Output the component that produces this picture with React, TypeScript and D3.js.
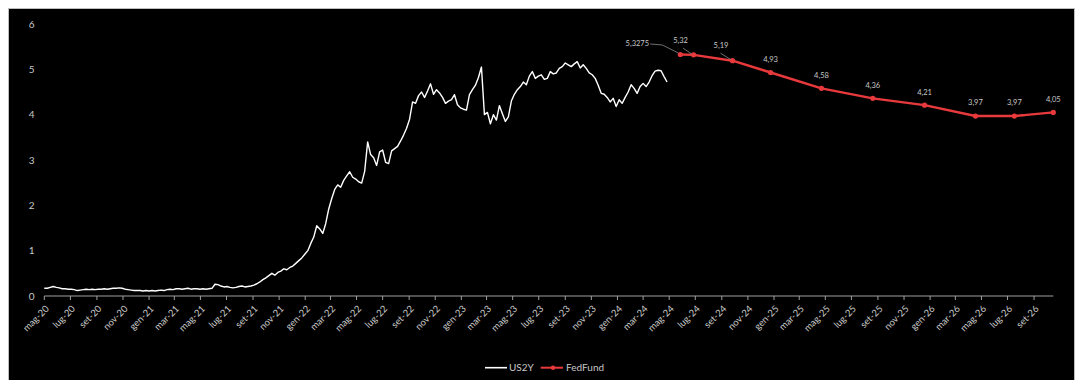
import React from 'react';
import * as d3 from 'd3';

// ---------- DATA ----------
const us2yStart = '2020-05-01';
const us2yStepDays = 7;
const us2yValues = [
  0.17, 0.17, 0.19, 0.21, 0.19, 0.18, 0.16, 0.16, 0.15, 0.15,
  0.14, 0.12, 0.13, 0.14, 0.15, 0.14, 0.15, 0.14, 0.15, 0.15,
  0.16, 0.15, 0.16, 0.17, 0.17, 0.18, 0.17, 0.15, 0.14, 0.13,
  0.12, 0.12, 0.12, 0.11, 0.12, 0.11, 0.12, 0.11, 0.12, 0.13,
  0.12, 0.14, 0.15, 0.14, 0.16, 0.16, 0.15, 0.16, 0.17, 0.15,
  0.16, 0.16, 0.15, 0.16, 0.15, 0.16, 0.17, 0.26, 0.25, 0.22,
  0.20, 0.21, 0.19, 0.18, 0.19, 0.21, 0.22, 0.20, 0.21, 0.22,
  0.24, 0.27, 0.31, 0.36, 0.40, 0.45, 0.50, 0.46, 0.52, 0.55,
  0.60, 0.58, 0.63, 0.66, 0.72, 0.78, 0.84, 0.92, 1.00, 1.16,
  1.30, 1.55, 1.48, 1.38, 1.60, 1.92, 2.15, 2.35, 2.45, 2.40,
  2.55, 2.65, 2.74, 2.62, 2.58, 2.52, 2.49, 2.75, 3.40, 3.12,
  3.05, 2.88, 3.18, 3.22, 2.95, 2.92, 3.20, 3.25, 3.30, 3.42,
  3.55, 3.70, 3.90, 4.28, 4.25, 4.42, 4.50, 4.38, 4.52, 4.68,
  4.45, 4.55, 4.48, 4.38, 4.25, 4.30, 4.33, 4.44, 4.22, 4.15,
  4.12, 4.10, 4.44, 4.55, 4.65, 4.82, 5.05, 4.00, 4.05, 3.80,
  4.00, 3.88, 4.20, 4.02, 3.85, 3.95, 4.30, 4.45, 4.55, 4.62,
  4.72, 4.66, 4.85, 4.95, 4.80, 4.85, 4.88, 4.78, 4.80, 4.95,
  4.90, 4.92, 5.02, 5.06, 5.14, 5.10, 5.06, 5.12, 5.17, 5.03,
  5.10, 5.02, 4.92, 4.88, 4.80, 4.65, 4.47, 4.45, 4.38, 4.28,
  4.36, 4.18, 4.33, 4.25, 4.38, 4.50, 4.66, 4.58, 4.47, 4.62,
  4.69, 4.62, 4.72, 4.86, 4.96, 4.98, 4.97, 4.84, 4.72,
];

const fedDates = [
  '2024-05-27', '2024-06-27', '2024-09-26', '2024-12-24', '2025-04-22',
  '2025-08-20', '2025-12-19', '2026-04-17', '2026-07-17', '2026-10-16',
];
const fedValues = [5.3275, 5.32, 5.19, 4.93, 4.58, 4.36, 4.21, 3.97, 3.97, 4.05];
const fedLabels = ['5,3275', '5,32', '5,19', '4,93', '4,58', '4,36', '4,21', '3,97', '3,97', '4,05'];

const yTicks = [0, 1, 2, 3, 4, 5, 6];
const monthNames = ['gen', 'feb', 'mar', 'apr', 'mag', 'giu', 'lug', 'ago', 'set', 'ott', 'nov', 'dic'];
const xDomain = ['2020-05-01', '2026-10-16'];
const seriesNames = ['US2Y', 'FedFund'];

// ---------- LAYOUT ----------
const W = 1067;
const H = 372;
const plotLeft = 36.3;
const plotRight = 1045.3;
const plotTop = 16;
const plotBottom = 288;

// label placement (text baseline offset from point) and leader lines
const labelPlacement: { dx: number; dy: number; leader?: [number, number][] }[] = [
  { dx: -43, dy: -8.5, leader: [[-30, -10.5], [-18, -9.5], [-2, -1.5]] },
  { dx: -13, dy: -11.5, leader: [[-10.5, -6.7], [-2, -0.8]] },
  { dx: -11.5, dy: -12.5, leader: [[-12, -7.5], [-1.5, -1]] },
  { dx: 0, dy: -10.5 },
  { dx: 0, dy: -10.5 },
  { dx: 0, dy: -10 },
  { dx: 0, dy: -10 },
  { dx: 0, dy: -11 },
  { dx: 0, dy: -11 },
  { dx: 0, dy: -10.5 },
];

const parse = d3.timeParse('%Y-%m-%d');

export default function App() {
  const start = parse(us2yStart)!;
  const us2y = us2yValues.map((v, i) => ({ date: d3.timeDay.offset(start, i * us2yStepDays), value: v }));
  const fed = fedValues.map((v, i) => ({ date: parse(fedDates[i])!, value: v, label: fedLabels[i] }));

  const x = d3.scaleTime().domain(xDomain.map((d) => parse(d)!)).range([plotLeft, plotRight]);
  const y = d3.scaleLinear().domain([0, 6]).range([plotBottom, plotTop]);

  const line = d3
    .line<{ date: Date; value: number }>()
    .x((d) => x(d.date))
    .y((d) => y(d.value));

  const xTicks = x.ticks(d3.timeMonth.every(2)!);
  const fmt = (d: Date) => `${monthNames[d.getMonth()]}-${String(d.getFullYear() % 100).padStart(2, '0')}`;

  const font = "Lato, 'Open Sans', sans-serif";
  const txt = '#c8c8c8';

  return (
    <svg
      width={W}
      height={H}
      style={{ position: 'fixed', left: 8, top: 8, background: '#000', display: 'block' }}
    >
      <rect x={0.5} y={0.5} width={W - 1} height={H + 5} fill="#000" stroke="#bdbdbd" strokeWidth={1} />

      {/* y tick labels */}
      {yTicks.map((t) => (
        <text key={t} x={23.7} y={y(t)} dy="0.35em" textAnchor="middle" fontSize={10} fontFamily={font} fill={txt}>
          {t}
        </text>
      ))}

      {/* x axis */}
      <line x1={plotLeft} x2={plotRight} y1={plotBottom} y2={plotBottom} stroke="#a0a0a0" strokeWidth={1.2} />
      {xTicks.map((t, i) => (
        <g key={i} transform={`translate(${x(t)},${plotBottom})`}>
          <line y1={0} y2={4} stroke="#a0a0a0" strokeWidth={1} />
          <text
            transform="translate(3,11) rotate(-45)"
            textAnchor="end"
            dy="0.35em"
            fontSize={9.5}
            fontFamily={font}
            fill={txt}
          >
            {fmt(t)}
          </text>
        </g>
      ))}

      {/* US2Y */}
      <path d={line(us2y) ?? ''} fill="none" stroke="#ffffff" strokeWidth={1.4} strokeLinejoin="round" />

      {/* FedFund */}
      <path d={line(fed) ?? ''} fill="none" stroke="#e8393c" strokeWidth={2.4} strokeLinejoin="round" />
      {fed.map((d, i) => (
        <circle key={i} cx={x(d.date)} cy={y(d.value)} r={2.6} fill="#e8393c" />
      ))}

      {/* data labels */}
      {fed.map((d, i) => {
        const px = x(d.date);
        const py = y(d.value);
        const p = labelPlacement[i];
        return (
          <g key={i}>
            {p.leader && (
              <polyline
                points={p.leader.map(([lx, ly]) => `${px + lx},${py + ly}`).join(' ')}
                fill="none"
                stroke="#8a8a8a"
                strokeWidth={0.8}
              />
            )}
            <text x={px + p.dx} y={py + p.dy} textAnchor="middle" fontSize={7.5} fontFamily={font} fill={txt}>
              {d.label}
            </text>
          </g>
        );
      })}

      {/* legend */}
      <g transform="translate(477,359.7)">
        <line x1={0} x2={22} y1={0} y2={0} stroke="#ffffff" strokeWidth={1.6} />
        <text x={24} y={0} dy="0.35em" fontSize={10} fontFamily={font} fill={txt}>
          {seriesNames[0]}
        </text>
        <line x1={55.7} x2={78} y1={0} y2={0} stroke="#e8393c" strokeWidth={2} />
        <circle cx={68} cy={0} r={2.2} fill="#e8393c" />
        <text x={81} y={0} dy="0.35em" fontSize={10} fontFamily={font} fill={txt}>
          {seriesNames[1]}
        </text>
      </g>
    </svg>
  );
}
